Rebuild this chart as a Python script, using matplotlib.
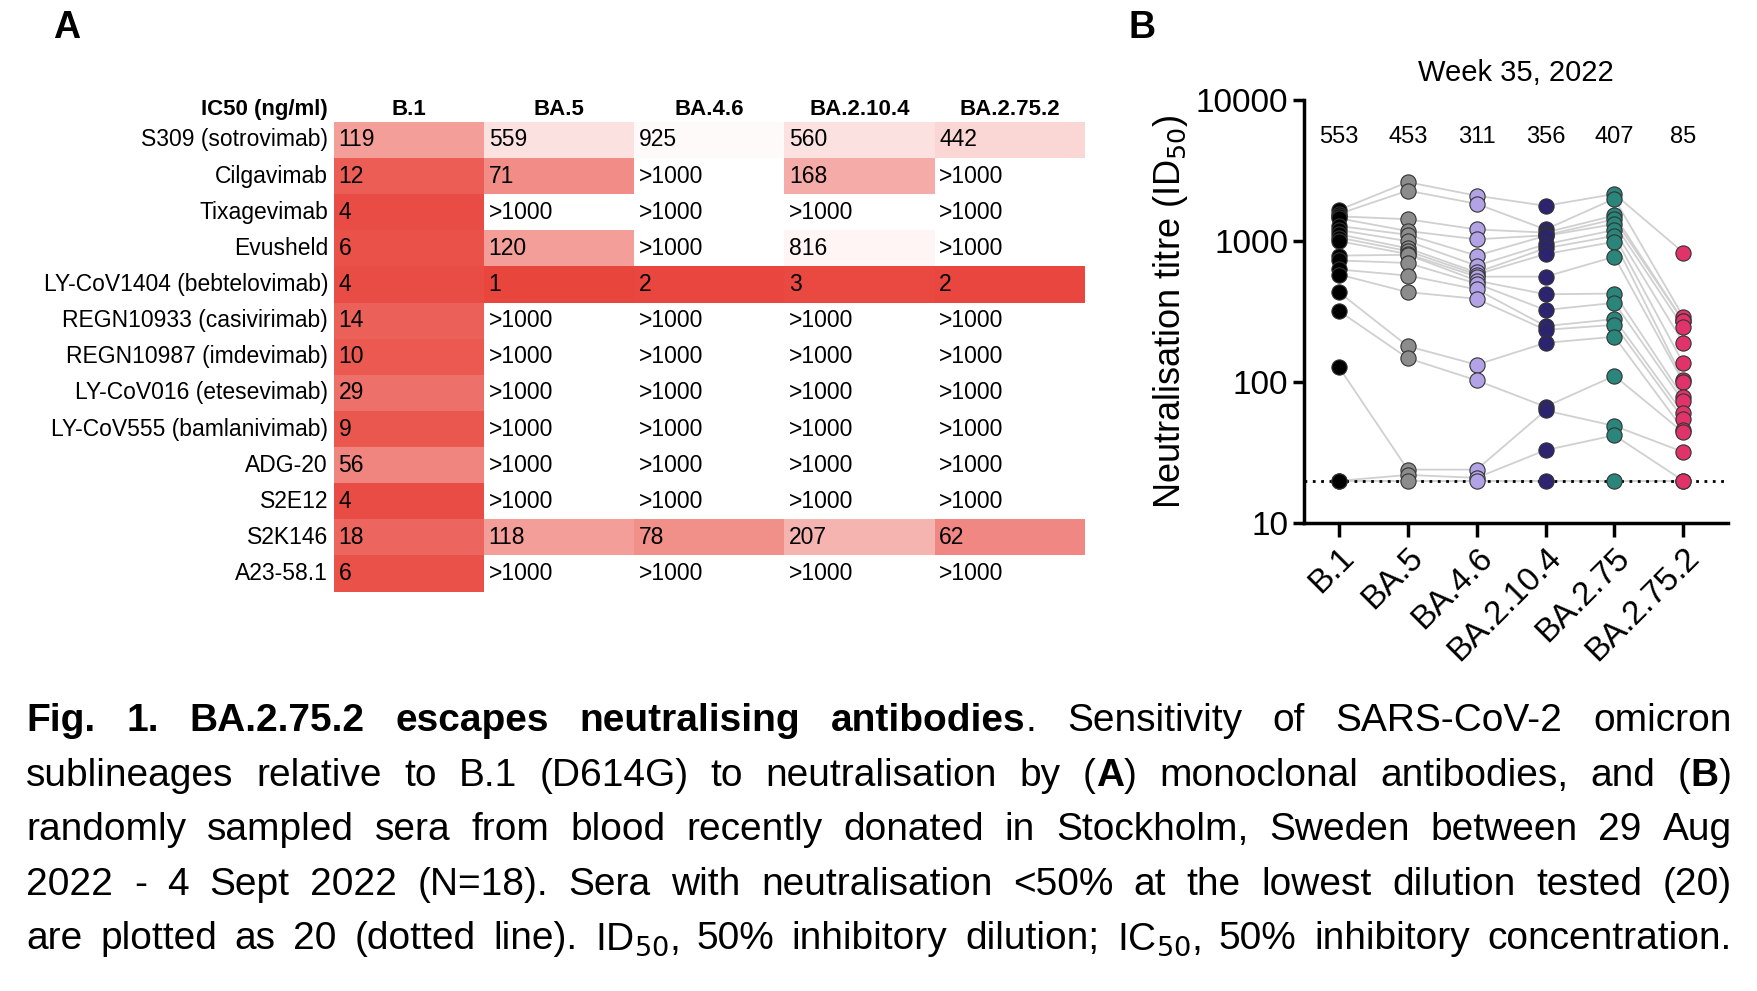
import numpy as np
import matplotlib.pyplot as plt
from matplotlib.colors import LinearSegmentedColormap

plt.rcParams['font.family'] = ['Liberation Sans', 'DejaVu Sans']

# Panel A: IC50 table
antibodies = ['S309 (sotrovimab)', 'Cilgavimab', 'Tixagevimab', 'Evusheld',
              'LY-CoV1404 (bebtelovimab)', 'REGN10933 (casivirimab)',
              'REGN10987 (imdevimab)', 'LY-CoV016 (etesevimab)',
              'LY-CoV555 (bamlanivimab)', 'ADG-20', 'S2E12', 'S2K146', 'A23-58.1']
variants_a = ['B.1', 'BA.5', 'BA.4.6', 'BA.2.10.4', 'BA.2.75.2']
# None means >1000
ic50 = [
    [119, 559, 925, 560, 442],
    [12, 71, None, 168, None],
    [4, None, None, None, None],
    [6, 120, None, 816, None],
    [4, 1, 2, 3, 2],
    [14, None, None, None, None],
    [10, None, None, None, None],
    [29, None, None, None, None],
    [9, None, None, None, None],
    [56, None, None, None, None],
    [4, None, None, None, None],
    [18, 118, 78, 207, 62],
    [6, None, None, None, None],
]

# Panel B: neutralisation titres (18 donors, ordered per donor)
variants_b = ['B.1', 'BA.5', 'BA.4.6', 'BA.2.10.4', 'BA.2.75', 'BA.2.75.2']
titres = {
    'B.1':       [1663, 1560, 1500, 1450, 1280, 1200, 1120, 1060, 1000, 790, 730, 630, 580, 435, 320, 128, 20, 20],
    'BA.5':      [2620, 2280, 1430, 1180, 1110, 1000, 890, 850, 810, 800, 700, 570, 435, 180, 148, 24, 22, 20],
    'BA.4.6':    [2100, 1840, 1210, 1030, 790, 670, 600, 580, 560, 525, 500, 455, 390, 133, 103, 24, 21, 20],
    'BA.2.10.4': [1780, 1210, 1150, 1100, 1090, 950, 890, 810, 560, 420, 325, 250, 235, 190, 67, 63, 33, 20],
    'BA.2.75':   [2160, 2000, 1520, 1430, 1320, 1200, 1090, 990, 775, 425, 365, 280, 255, 210, 111, 49, 42, 20],
    'BA.2.75.2': [830, 290, 270, 270, 245, 190, 136, 104, 100, 78, 73, 60, 55, 46, 44, 32, 20, 20],
}
geo_means = ['553', '453', '311', '356', '407', '85']
colors_b = ['#000000', '#8c8c8c', '#b3a3e6', '#2d2470', '#2a857a', '#e0336a']

fig = plt.figure(figsize=(17.58, 9.91), dpi=100)

# ---- Panel A
axA = fig.add_axes([0.19, 0.403, 0.427, 0.474])
cmap = LinearSegmentedColormap.from_list('r', ['#e8453c', '#ffffff'])
nrow, ncol = len(antibodies), len(variants_a)
for i, row in enumerate(ic50):
    for j, v in enumerate(row):
        if v is not None:
            t = (np.log10(v) / 3.0) ** 2
            axA.add_patch(plt.Rectangle((j, i), 1, 1, color=cmap(min(t, 0.97)), lw=0))
            txt = str(v)
        else:
            txt = '>1000'
        axA.text(j + 0.03, i + 0.5, txt, va='center', ha='left', fontsize=16.5)
    axA.text(-0.04, i + 0.5, antibodies[i], va='center', ha='right', fontsize=16.5)
for j, v in enumerate(variants_a):
    axA.text(j + 0.5, -0.35, v, ha='center', va='center', fontsize=16, fontweight='bold')
axA.text(-0.04, -0.35, 'IC50 (ng/ml)', ha='right', va='center', fontsize=16, fontweight='bold')
axA.set_xlim(0, ncol)
axA.set_ylim(nrow, 0)
axA.axis('off')
fig.text(0.03, 0.972, 'A', fontsize=27, fontweight='bold', va='center')
fig.text(0.642, 0.972, 'B', fontsize=27, fontweight='bold', va='center')

# ---- Panel B
axB = fig.add_axes([0.742, 0.472, 0.241, 0.427])
x = np.arange(len(variants_b))
data = np.array([titres[v] for v in variants_b])
for d in range(data.shape[1]):
    axB.plot(x, data[:, d], color='#d0d0d0', lw=1.3, zorder=1)
for k, v in enumerate(variants_b):
    axB.scatter(np.full(len(titres[v]), x[k]), titres[v], s=120, color=colors_b[k],
                edgecolor='#333333', linewidth=0.8, zorder=3)
    axB.text(x[k], 5500, geo_means[k], ha='center', va='center', fontsize=17)
axB.axhline(20, color='black', ls=(0, (1, 2)), lw=2, zorder=2)
axB.set_yscale('log')
axB.set_ylim(10, 10000)
axB.set_xlim(-0.5, 5.65)
axB.set_yticks([10, 100, 1000, 10000])
axB.set_yticklabels(['10', '100', '1000', '10000'])
axB.minorticks_off()
axB.set_xticks(x)
axB.set_xticklabels(variants_b, rotation=45, ha='right', rotation_mode='anchor', fontsize=24)
axB.tick_params(axis='y', labelsize=24, width=2.5, length=8)
axB.tick_params(axis='x', width=2.5, length=10)
for s in ['top', 'right']:
    axB.spines[s].set_visible(False)
for s in ['left', 'bottom']:
    axB.spines[s].set_linewidth(2.5)
axB.set_ylabel('Neutralisation titre (ID$_{50}$)', fontsize=26)
axB.set_title('Week 35, 2022', fontsize=21, pad=14)

# ---- Caption
lines = [
    [('Fig. 1. BA.2.75.2 escapes neutralising antibodies', 'bold'),
     ('. Sensitivity of SARS-CoV-2 omicron', 'normal')],
    [('sublineages relative to B.1 (D614G) to neutralisation by (', 'normal'), ('A', 'bold'),
     (') monoclonal antibodies, and (', 'normal'), ('B', 'bold'), (')', 'normal')],
    [('randomly sampled sera from blood recently donated in Stockholm, Sweden between 29 Aug', 'normal')],
    [('2022 - 4 Sept 2022 (N=18). Sera with neutralisation <50% at the lowest dilution tested (20)', 'normal')],
    [('are plotted as 20 (dotted line).  ID$_{50}$, 50% inhibitory dilution;  IC$_{50}$, 50% inhibitory concentration.', 'normal')],
]
ys = [0.262, 0.207, 0.152, 0.097, 0.042]
x0, x1 = 0.015, 0.985
fig.canvas.draw()
r = fig.canvas.get_renderer()
for y, parts in zip(ys, lines):
    # split into words and justify across the line
    words = []
    for txt, w in parts:
        for k, wd in enumerate(txt.split(' ')):
            if wd == '':
                continue
            glue = (k == 0 and not txt.startswith(' ') and len(words) > 0)
            words.append([wd, w, glue])
    items = []
    for wd, w, glue in words:
        t = fig.text(0, y, wd, fontsize=28, fontweight=w, va='baseline')
        wdt = t.get_window_extent(r).width / fig.bbox.width
        items.append((t, wdt, glue))
    space = fig.text(0, 0, 'a a', fontsize=28).get_window_extent(r).width
    space -= 2 * fig.text(0, 0, 'a', fontsize=28).get_window_extent(r).width
    fig.texts[-2].remove()
    fig.texts[-1].remove()
    space /= fig.bbox.width
    ngaps = sum(1 for it in items[1:] if not it[2])
    total = sum(it[1] for it in items) + ngaps * space
    gap = space + max(0, (x1 - x0) - total) / max(ngaps, 1)
    xcur = x0
    for n, (t, wdt, glue) in enumerate(items):
        if n > 0 and not glue:
            xcur += gap
        t.set_position((xcur, y))
        xcur += wdt

fig.savefig('out.png', dpi=100)
